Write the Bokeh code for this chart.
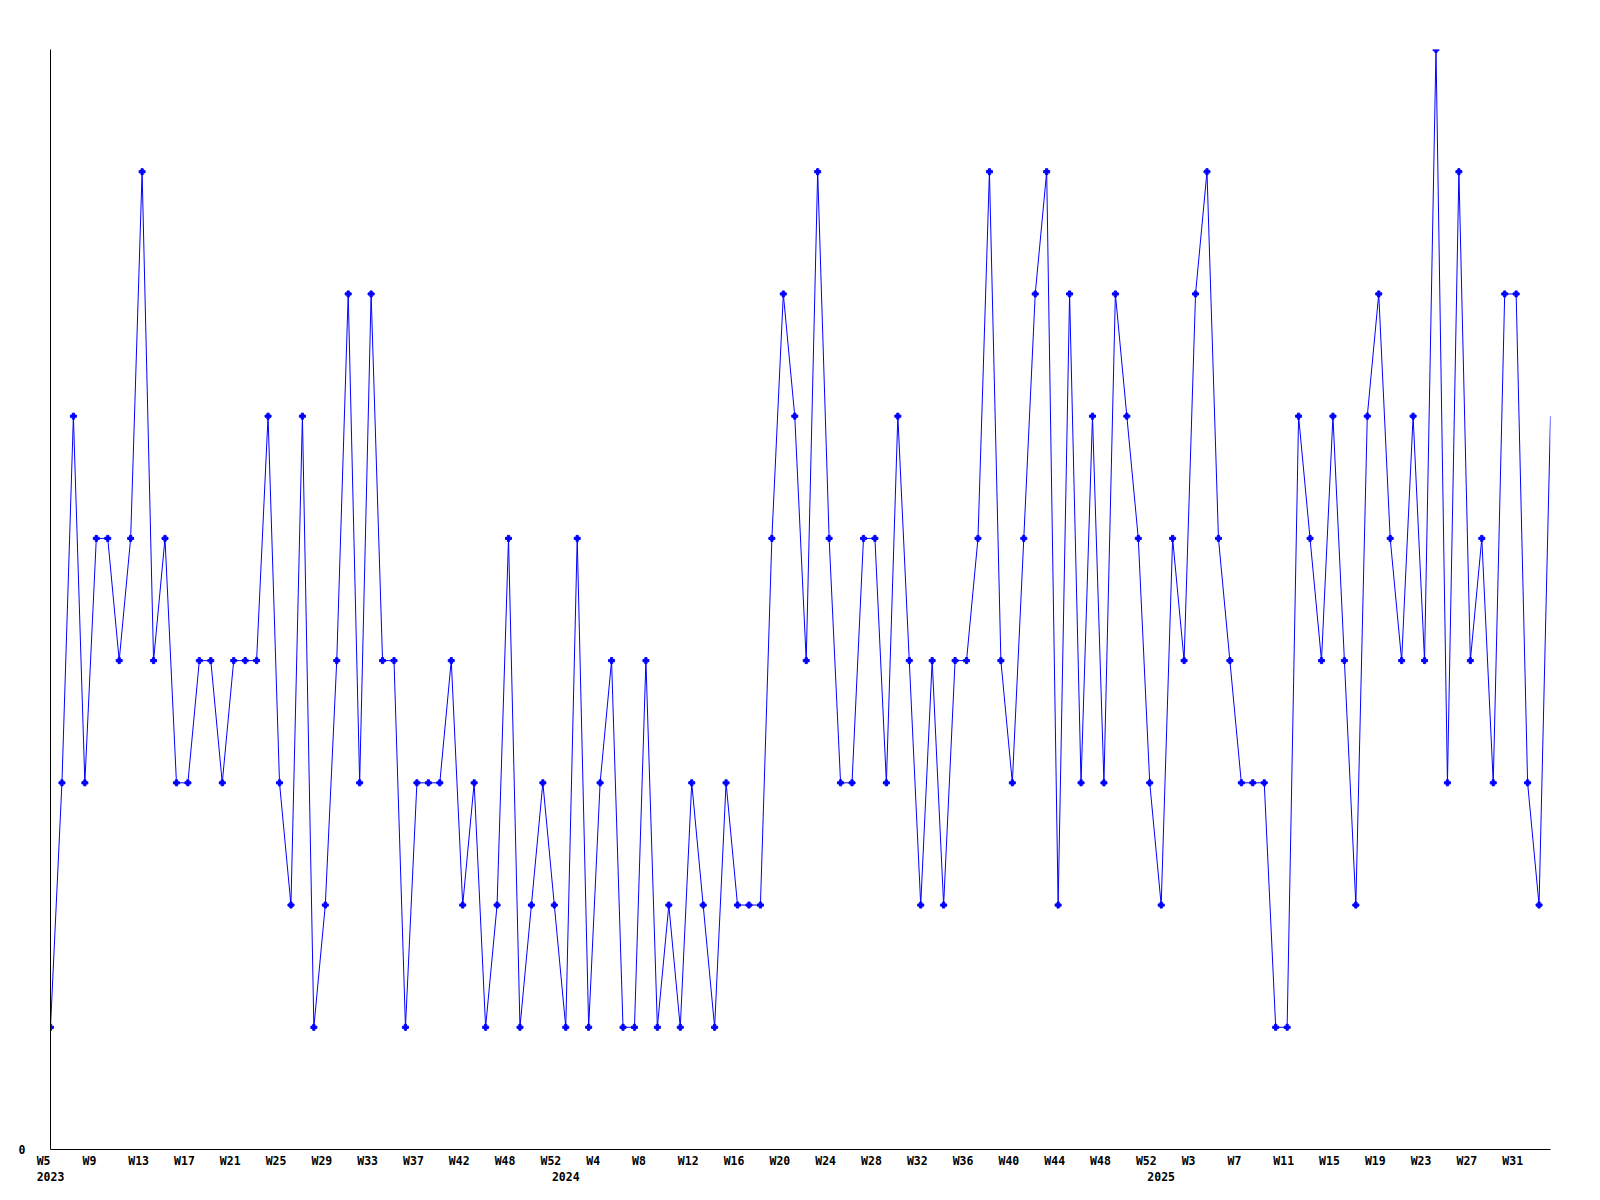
from bokeh.plotting import figure
from bokeh.models import Range1d, FixedTicker
from bokeh.embed import file_html
from bokeh.resources import INLINE

# weekly counts, 2023 W5 .. 2025 W33
values = [1, 3, 6, 3, 5, 5, 4, 5, 8, 4,
          5, 3, 3, 4, 4, 3, 4, 4, 4, 6,
          3, 2, 6, 1, 2, 4, 7, 3, 7, 4,
          4, 1, 3, 3, 3, 4, 2, 3, 1, 2,
          5, 1, 2, 3, 2, 1, 5, 1, 3, 4,
          1, 1, 4, 1, 2, 1, 3, 2, 1, 3,
          2, 2, 2, 5, 7, 6, 4, 8, 5, 3,
          3, 5, 5, 3, 6, 4, 2, 4, 2, 4,
          4, 5, 8, 4, 3, 5, 7, 8, 2, 7,
          3, 6, 3, 7, 6, 5, 3, 2, 5, 4,
          7, 8, 5, 4, 3, 3, 3, 1, 1, 6,
          5, 4, 6, 4, 2, 6, 7, 5, 4, 6,
          4, 9, 3, 8, 4, 5, 3, 7, 7, 3,
          2, 6]

# tick labels, one for every 4th week
week_labels = ["W5", "W9", "W13", "W17", "W21", "W25", "W29", "W33", "W37", "W42",
               "W48", "W52", "W4", "W8", "W12", "W16", "W20", "W24", "W28", "W32",
               "W36", "W40", "W44", "W48", "W52", "W3", "W7", "W11", "W15", "W19",
               "W23", "W27", "W31"]
week_label_step = 4

# first point of each year
year_labels = ["2023", "2024", "2025"]
year_first_point = [0, 45, 97]

NB = "\u00a0"
FONT = "DejaVu Sans Mono"

n = len(values)
xs = list(range(n))

p = figure(width=1584, height=1192, output_backend="svg", toolbar_location=None,
           x_range=Range1d(0, n - 1), y_range=Range1d(0, max(values)),
           min_border_left=50, min_border_right=34, min_border_top=49, min_border_bottom=43)
p.outline_line_color = None
p.xgrid.visible = False
p.ygrid.visible = False
p.background_fill_color = "white"
p.border_fill_color = "white"

p.line(xs, values, line_color="#0000ff", line_width=1)
p.scatter(xs[:-1], values[:-1], marker="plus", size=6, color="#0000ff")

# x-axis ticks and labels
ticks = []
overrides = {}
for k, lab in enumerate(week_labels):
    t = k * week_label_step
    ticks.append(t)
    overrides[t] = lab.ljust(4).replace(" ", NB)
for yl, yp in zip(year_labels, year_first_point):
    if yp in overrides:
        overrides[yp] = overrides[yp] + "\n" + yl
    else:
        ticks.append(yp)
        overrides[yp] = NB * 4 + "\n" + yl
p.xaxis.ticker = FixedTicker(ticks=sorted(ticks))
p.xaxis.major_label_overrides = overrides
p.xaxis.major_tick_out = 0
p.xaxis.major_tick_in = 0
p.xaxis.minor_tick_out = 0
p.xaxis.minor_tick_in = 0
p.xaxis.major_label_standoff = 4
p.xaxis.major_label_text_font = FONT
p.xaxis.major_label_text_font_style = "bold"
p.xaxis.major_label_text_font_size = "11.5px"
p.xaxis.major_label_text_color = "black"
p.xaxis.major_label_text_line_height = 1.15
p.xaxis.axis_line_color = "black"
p.xaxis.axis_line_width = 1

p.yaxis.ticker = FixedTicker(ticks=[0])
p.yaxis.major_tick_out = 0
p.yaxis.major_tick_in = 0
p.yaxis.minor_tick_out = 0
p.yaxis.minor_tick_in = 0
p.yaxis.major_label_standoff = 25
p.yaxis.major_label_text_font = FONT
p.yaxis.major_label_text_font_style = "bold"
p.yaxis.major_label_text_font_size = "11.5px"
p.yaxis.major_label_text_color = "black"
p.yaxis.axis_line_color = "black"
p.yaxis.axis_line_width = 1

open("out.html", "w").write(file_html(p, INLINE))
